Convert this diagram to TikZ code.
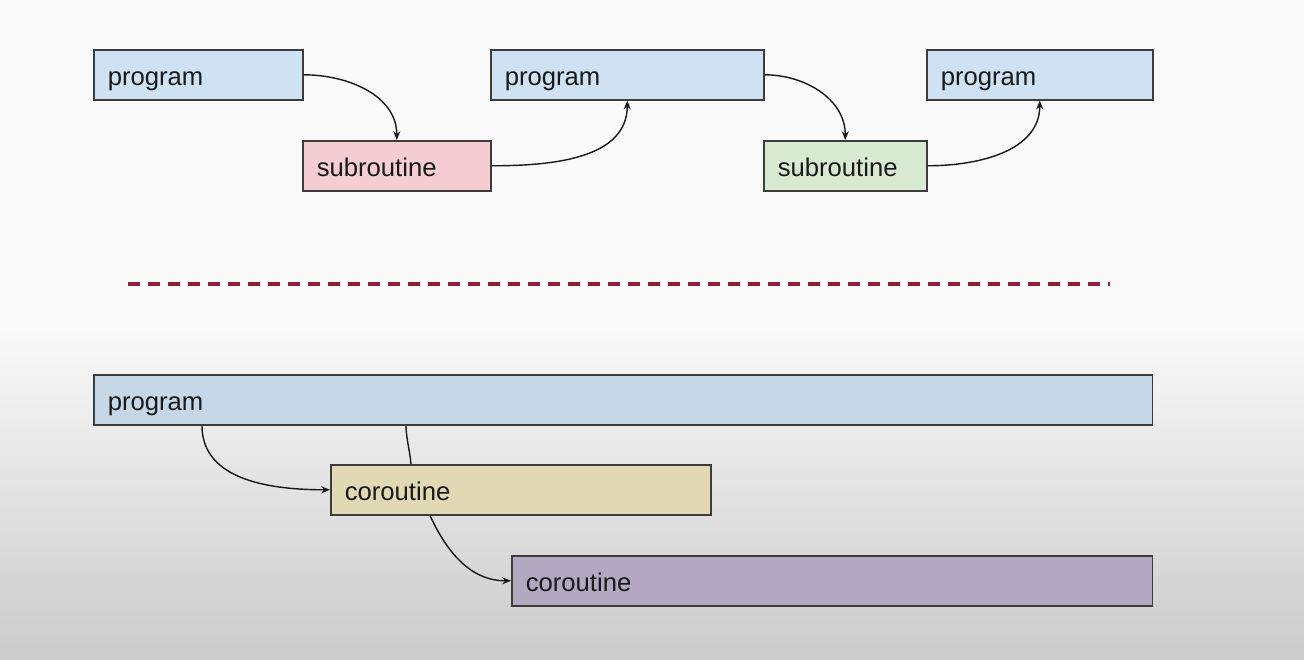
\documentclass[tikz,border=0pt]{standalone}
\usepackage{fontspec}
\setmainfont{Liberation Sans}
\usepackage{tikz}
\usetikzlibrary{arrows.meta}
\definecolor{page_white}{RGB}{249,249,249}
\definecolor{page_gray}{RGB}{203,203,203}
\definecolor{ink}{RGB}{25,25,25}
\definecolor{edge_gray}{RGB}{60,60,60}
\definecolor{light_blue}{RGB}{207,226,243}
\definecolor{shade_blue}{RGB}{198,216,232}
\definecolor{light_pink}{RGB}{244,206,210}
\definecolor{light_green}{RGB}{217,234,211}
\definecolor{sand}{RGB}{225,216,180}
\definecolor{mauve}{RGB}{178,169,192}
\definecolor{dash_red}{RGB}{150,28,55}

\tikzset{
	block/.style={rectangle,draw=edge_gray,line width=0.9pt,anchor=north west,
		minimum height=1cm,inner xsep=0.28cm,text width=#1,align=left,
		text height=12.5pt,text depth=0pt,
		font=\fontsize{14.6}{17}\selectfont,text=ink},
	link/.style={draw=ink,line width=0.8pt,-{Stealth[length=5pt,width=4pt]}}
}

\begin{document}
\begin{tikzpicture}[x=0.02cm,y=-0.02cm]
	\useasboundingbox (0,0) rectangle (1304,659);
	\fill[page_white] (0,0) rectangle (1304,330);
	\shade[top color=page_white,bottom color=page_gray] (0,330) rectangle (1304,659);

	% subroutines
	\node[block=3.62cm,fill=light_blue] (prog1) at (93,49) {program};
	\node[block=3.20cm,fill=light_pink] (sub1) at (302,140) {subroutine};
	\node[block=4.90cm,fill=light_blue] (prog2) at (490,49) {program};
	\node[block=2.70cm,fill=light_green] (sub2) at (763,140) {subroutine};
	\node[block=3.96cm,fill=light_blue] (prog3) at (926,49) {program};

	\draw[link] (prog1.east) to[out=0,in=90] (sub1.north);
	\draw[link] (sub1.east) to[out=0,in=-90] (prog2.south);
	\draw[link] (prog2.east) to[out=0,in=90] (sub2.north);
	\draw[link] (sub2.east) to[out=0,in=-90] (prog3.south);

	\draw[dash_red,line width=2.1pt,dash pattern=on 0.24cm off 0.16cm] (128,284) -- (1110,284);

	% coroutines
	\node[block=20.62cm,fill=shade_blue] (prog4) at (93,374) {program};
	\node[block=7.04cm,fill=sand] (cor1) at (330,464) {coroutine};
	\node[block=12.26cm,fill=mauve] (cor2) at (511,555) {coroutine};

	\draw[link] ([xshift=2.18cm]prog4.south west) to[out=-90,in=180] (cor1.west);
	\draw[draw=ink,line width=0.8pt] ([xshift=6.26cm]prog4.south west) to[out=-88,in=95] ([xshift=1.62cm]cor1.north west);
	\draw[link] ([xshift=2cm]cor1.south west) to[out=-65,in=180] (cor2.west);
\end{tikzpicture}
\end{document}
